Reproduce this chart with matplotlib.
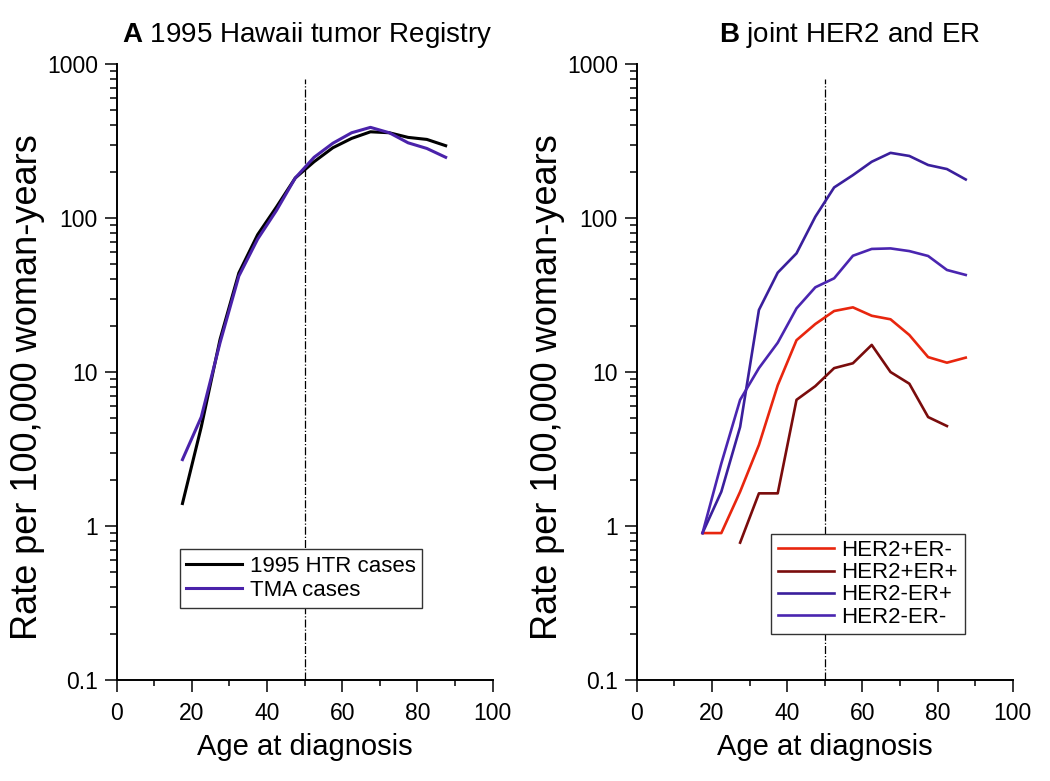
import numpy as np
import matplotlib
matplotlib.use("Agg")
import matplotlib.pyplot as plt
from matplotlib.ticker import FixedLocator, LogLocator, NullFormatter, FuncFormatter

plt.rcParams['font.family'] = ['Liberation Sans', 'DejaVu Sans']
plt.rcParams['mathtext.fontset'] = 'custom'
plt.rcParams['mathtext.rm'] = 'Liberation Sans'
plt.rcParams['mathtext.bf'] = 'Liberation Sans:bold'

# age group midpoints (5-year groups)
ages = [17.5, 22.5, 27.5, 32.5, 37.5, 42.5, 47.5, 52.5, 57.5, 62.5, 67.5, 72.5, 77.5, 82.5, 87.5]

# panel A: rates per 100,000 woman-years
htr_cases = [1.4, 4.4, 16.3, 44, 78, 118, 182, 232, 286, 329, 363, 358, 334, 324, 295]
tma_cases = [2.7, 5.1, 15.5, 42, 73, 112, 182, 248, 306, 358, 388, 358, 308, 283, 248]

# panel B: joint HER2 / ER subtypes
her2p_erm = [0.9, 0.9, 1.67, 3.36, 8.2, 16.1, 20.5, 24.9, 26.3, 23.2, 22.0, 17.4, 12.5, 11.5, 12.4]
her2p_erp = [np.nan, np.nan, 0.78, 1.63, 1.63, 6.6, 8.1, 10.6, 11.4, 15.0, 10.0, 8.4, 5.1, 4.46, np.nan]
her2m_erp = [0.9, 1.67, 4.4, 25.3, 44.2, 59, 102, 158, 190, 232, 265, 253, 221, 208, 178]
her2m_erm = [0.9, 2.55, 6.6, 10.6, 15.5, 25.9, 35.5, 40.6, 56.9, 63, 63.5, 61, 56.7, 46, 42.7]

cutoff_age = 50

fig = plt.figure(figsize=(10.5, 7.81), dpi=100)
ax_a = fig.add_axes([0.1111, 0.1293, 0.3581, 0.7887])
ax_b = fig.add_axes([0.6064, 0.1293, 0.3581, 0.7887])


def style_axis(ax):
    ax.set_yscale('log')
    ax.set_xlim(0, 100)
    ax.set_ylim(0.1, 1000)
    for side in ('top', 'right'):
        ax.spines[side].set_visible(False)
    for side in ('left', 'bottom'):
        ax.spines[side].set_linewidth(1.4)
    ax.xaxis.set_major_locator(FixedLocator([0, 20, 40, 60, 80, 100]))
    ax.xaxis.set_minor_locator(FixedLocator([10, 30, 50, 70, 90]))
    ax.yaxis.set_major_locator(FixedLocator([0.1, 1, 10, 100, 1000]))
    ax.yaxis.set_minor_locator(LogLocator(base=10, subs=np.arange(2, 10)))
    ax.yaxis.set_major_formatter(FuncFormatter(lambda v, p: f"{v:g}"))
    ax.yaxis.set_minor_formatter(NullFormatter())
    ax.tick_params(axis='both', which='major', length=8.6, width=1.1,
                   labelsize=16.5, direction='out')
    ax.tick_params(axis='x', which='major', pad=7)
    ax.tick_params(axis='y', which='major', pad=5)
    ax.tick_params(axis='x', which='minor', length=4.3, width=1.1, direction='out')
    ax.tick_params(axis='y', which='minor', length=5, width=1.1, direction='out')
    ax.set_xlabel("Age at diagnosis", fontsize=21, labelpad=6)
    ax.set_ylabel("Rate per 100,000 woman-years", fontsize=26)
    ax.yaxis.set_label_coords(-0.19, 0.476)
    ax.vlines(cutoff_age, 0.1, 800, colors='black', linestyles='dashdot', linewidth=0.9)


style_axis(ax_a)
style_axis(ax_b)

ax_a.plot(ages, htr_cases, color='black', lw=2.2, label='1995 HTR cases')
ax_a.plot(ages, tma_cases, color='#4a22aa', lw=2.2, label='TMA cases')
ax_a.text(0.506, 1.035, r"$\mathbf{A}$ 1995 Hawaii tumor Registry", transform=ax_a.transAxes,
          ha='center', va='baseline', fontsize=20)
ax_a.legend(loc='center', bbox_to_anchor=(0.490, 0.165), fontsize=16, frameon=True,
            fancybox=False, edgecolor='#333333', framealpha=1, handlelength=2.5,
            handletextpad=0.35, labelspacing=0.15, borderpad=0.3)

ax_b.plot(ages, her2p_erm, color='#e8260e', lw=1.9, label='HER2+ER-')
ax_b.plot(ages, her2p_erp, color='#7a0c0c', lw=1.9, label='HER2+ER+')
ax_b.plot(ages, her2m_erp, color='#3a1f9c', lw=1.9, label='HER2-ER+')
ax_b.plot(ages, her2m_erm, color='#4a25b0', lw=1.9, label='HER2-ER-')
ax_b.text(0.567, 1.035, r"$\mathbf{B}$ joint HER2 and ER", transform=ax_b.transAxes,
          ha='center', va='baseline', fontsize=20)
ax_b.legend(loc='center', bbox_to_anchor=(0.615, 0.156), fontsize=16, frameon=True,
            fancybox=False, edgecolor='#333333', framealpha=1, handlelength=2.5,
            handletextpad=0.35, labelspacing=0.05, borderpad=0.3)

fig.savefig("out.png", dpi=100)
